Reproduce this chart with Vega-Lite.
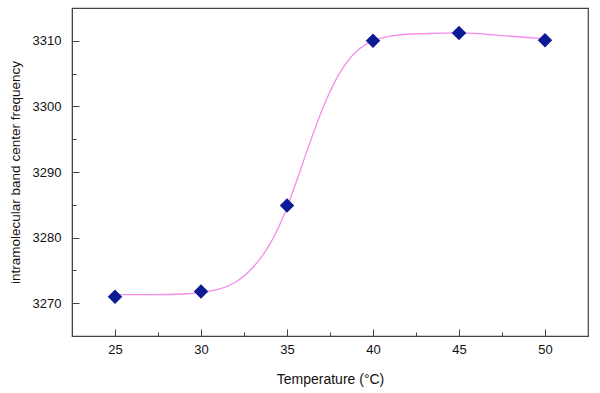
{
  "$schema": "https://vega.github.io/schema/vega-lite/v6.json",
  "width": 516,
  "height": 328,
  "autosize": {"type": "none"},
  "padding": {"left": 72, "top": 8, "right": 12, "bottom": 57},
  "background": "white",
  "config": {
    "view": {"stroke": "#444", "strokeWidth": 1.2},
    "font": "Liberation Sans",
    "axis": {
      "domainColor": "#444",
      "tickColor": "#444",
      "grid": false,
      "labelFont": "Liberation Sans",
      "labelFontSize": 13,
      "labelColor": "#111",
      "titleFont": "Liberation Sans",
      "titleFontSize": 14,
      "titleFontWeight": "normal",
      "titleColor": "#111"
    }
  },
  "datasets": {
    "points": [
      {"temperature": 25, "frequency": 3271},
      {"temperature": 30, "frequency": 3271.8},
      {"temperature": 35, "frequency": 3284.9},
      {"temperature": 40, "frequency": 3310},
      {"temperature": 45, "frequency": 3311.2},
      {"temperature": 50, "frequency": 3310.1}
    ],
    "curve": [
      {"temperature": 25, "frequency": 3271.3},
      {"temperature": 27, "frequency": 3271.3},
      {"temperature": 29, "frequency": 3271.4},
      {"temperature": 30, "frequency": 3271.6},
      {"temperature": 31, "frequency": 3272.1},
      {"temperature": 32, "frequency": 3273.2},
      {"temperature": 33, "frequency": 3275.4},
      {"temperature": 34, "frequency": 3279.0},
      {"temperature": 35, "frequency": 3284.6},
      {"temperature": 36, "frequency": 3292.0},
      {"temperature": 37, "frequency": 3299.2},
      {"temperature": 38, "frequency": 3304.8},
      {"temperature": 39, "frequency": 3308.3},
      {"temperature": 40, "frequency": 3310.0},
      {"temperature": 41, "frequency": 3310.7},
      {"temperature": 42, "frequency": 3311.0},
      {"temperature": 43, "frequency": 3311.1},
      {"temperature": 45, "frequency": 3311.2},
      {"temperature": 47, "frequency": 3310.9},
      {"temperature": 49, "frequency": 3310.5},
      {"temperature": 50, "frequency": 3310.3}
    ]
  },
  "layer": [
    {
      "data": {"name": "curve"},
      "mark": {"type": "line", "interpolate": "natural", "color": "#f58cec", "strokeWidth": 1.3},
      "encoding": {
        "x": {
          "field": "temperature", "type": "quantitative",
          "scale": {"domain": [22.5, 52.5], "nice": false, "zero": false},
          "axis": {
            "orient": "bottom",
            "title": "Temperature (°C)",
            "values": [25, 30, 35, 40, 45, 50],
            "tickSize": -7,
            "labelPadding": 14,
            "titlePadding": 16
          }
        },
        "y": {
          "field": "frequency", "type": "quantitative",
          "scale": {"domain": [3265, 3315], "nice": false, "zero": false},
          "axis": {
            "orient": "left",
            "title": "intramolecular band center frequency",
            "titleFontSize": 13.5,
            "format": "d",
            "values": [3270, 3280, 3290, 3300, 3310],
            "tickSize": -7,
            "labelPadding": 18,
            "titlePadding": 10
          }
        }
      }
    },
    {
      "data": {"name": "points"},
      "mark": {"type": "point", "shape": "diamond", "filled": true, "size": 210, "color": "#0c1a96", "opacity": 1},
      "encoding": {
        "x": {
          "field": "temperature", "type": "quantitative",
          "axis": {
            "orient": "bottom",
            "title": null,
            "values": [27.5, 32.5, 37.5, 42.5, 47.5],
            "labels": false,
            "domain": false,
            "tickSize": -4
          }
        },
        "y": {
          "field": "frequency", "type": "quantitative",
          "axis": {
            "orient": "left",
            "title": null,
            "values": [3275, 3285, 3295, 3305],
            "labels": false,
            "domain": false,
            "tickSize": -4
          }
        }
      }
    }
  ],
  "resolve": {"axis": {"x": "independent", "y": "independent"}}
}
